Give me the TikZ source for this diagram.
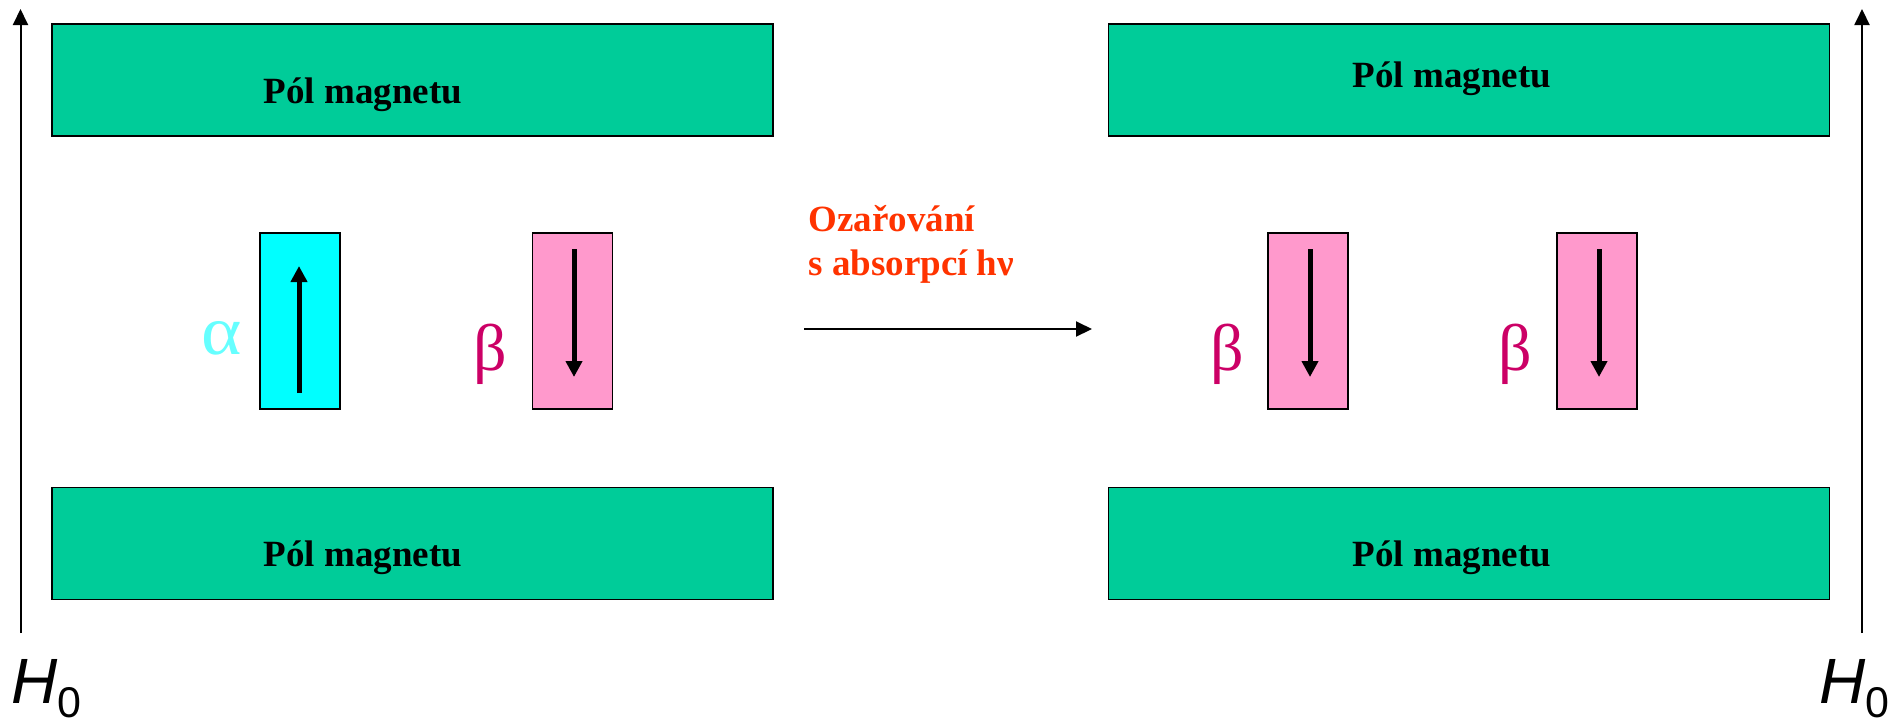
\documentclass[tikz,border=0pt]{standalone}
\usepackage{fontspec}
\setmainfont{Liberation Serif}
\newfontfamily\sansf{Liberation Sans}
\usetikzlibrary{arrows.meta,calc}
\definecolor{pole}{HTML}{00CC99}
\definecolor{spinA}{HTML}{00FFFF}
\definecolor{spinB}{HTML}{FF99CC}
\definecolor{txtA}{HTML}{66FFFF}
\definecolor{txtB}{HTML}{CC0066}
\definecolor{irr}{HTML}{FF3300}
\begin{document}
\begin{tikzpicture}[x=0.5pt,y=-0.5pt,
  polebox/.style={draw=black,line width=0.75pt,fill=pole,minimum width=360.5pt,minimum height=56pt,inner sep=0pt,anchor=center},
  spinbox/.style={draw=black,line width=0.75pt,minimum width=40pt,minimum height=88pt,inner sep=0pt,anchor=center},
  poletext/.style={font=\fontsize{18.5}{22}\selectfont\bfseries,inner sep=0pt,anchor=base},
  irrtext/.style={font=\fontsize{18.5}{22}\selectfont\bfseries,text=irr,inner sep=0pt,anchor=base west},
  greek/.style={font=\fontsize{33}{36}\selectfont,inner sep=0pt,anchor=base},
  hlabel/.style={inner sep=0pt,anchor=base west},
  spinarrow/.style={line width=2.5pt,-{Triangle[length=8pt,width=8pt]}},
  thinarrow/.style={line width=1pt,-{Triangle[length=8pt,width=7.5pt]}},
]
\useasboundingbox (0,0) rectangle (1890,725);

% magnet poles
\node[polebox] (tl) at (412.5,80) {};
\node[polebox] (bl) at (412.5,543.5) {};
\node[polebox] (tr) at (1469,80) {};
\node[polebox] (br) at (1469,543.5) {};
\node[poletext] (tlt) at (363,103) {Pól magnetu};
\node[poletext] (blt) at (363,566) {Pól magnetu};
\node[poletext] (trt) at (1452,87) {Pól magnetu};
\node[poletext] (brt) at (1452,566) {Pól magnetu};

% spin boxes
\node[spinbox,fill=spinA] (s1) at (300,321) {};
\node[spinbox,fill=spinB] (s2) at (572.5,321) {};
\node[spinbox,fill=spinB] (s3) at (1308,321) {};
\node[spinbox,fill=spinB] (s4) at (1597,321) {};

\coordinate (s1a) at (299,393); \coordinate (s1b) at (299,266);
\coordinate (s2a) at (574,249); \coordinate (s2b) at (574,377);
\coordinate (s3a) at (1310,249); \coordinate (s3b) at (1310,377);
\coordinate (s4a) at (1599,249); \coordinate (s4b) at (1599,377);
\draw[spinarrow] (s1a) -- (s1b);
\draw[spinarrow] (s2a) -- (s2b);
\draw[spinarrow] (s3a) -- (s3b);
\draw[spinarrow] (s4a) -- (s4b);

% greek labels
\node[greek,text=txtA,font=\fontsize{35}{38}\selectfont,xscale=1.1] (ga) at (221.5,354) {α};
\node[greek,text=txtB] (gb1) at (490,370) {β};
\node[greek,text=txtB] (gb2) at (1227,370) {β};
\node[greek,text=txtB] (gb3) at (1515,370) {β};

% irradiation
\coordinate (ma) at (804,329);
\coordinate (mb) at (1092,329);
\draw[thinarrow] (ma) -- (mb);
\node[irrtext] (irr1) at (808,231) {Ozařování};
\node[irrtext] (irr2) at (808,275) {s absorpcí hν};

% field axes
\coordinate (la) at (20.5,633); \coordinate (lb) at (20.5,9);
\coordinate (ra) at (1862,633); \coordinate (rb) at (1862,9);
\draw[thinarrow] (la) -- (lb);
\draw[thinarrow] (ra) -- (rb);
\node[hlabel] (h1) at (11,703) {{\fontsize{32}{36}\selectfont\sansf\itshape H}{\fontsize{21.5}{24}\selectfont\sansf\raisebox{-7pt}{0}}};
\node[hlabel] (h2) at (1819,703) {{\fontsize{32}{36}\selectfont\sansf\itshape H}{\fontsize{21.5}{24}\selectfont\sansf\raisebox{-7pt}{0}}};
\end{tikzpicture}
\end{document}
